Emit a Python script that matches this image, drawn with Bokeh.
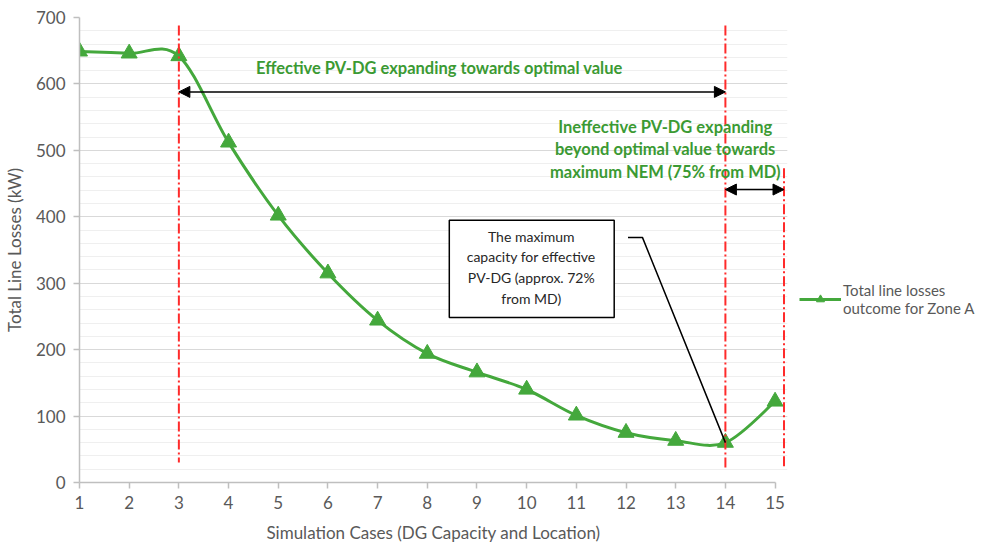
import numpy as np
from bokeh.plotting import figure
from bokeh.models import (Range1d, SingleIntervalTicker, FixedTicker, Label, Arrow,
                          NormalHead, BoxAnnotation, Legend, LegendItem)
from bokeh.embed import file_html
from bokeh.resources import INLINE

# ---- data ----
cases = [1, 2, 3, 4, 5, 6, 7, 8, 9, 10, 11, 12, 13, 14, 15]
losses = [649, 646, 642, 512, 402, 315, 244, 194, 166, 140, 101, 75, 63, 60, 122]
x_ticks = [1, 2, 3, 4, 5, 6, 7, 8, 9, 10, 11, 12, 13, 14, 15]
y_ticks = [0, 100, 200, 300, 400, 500, 600, 700]

GREEN = "#44a83c"
TGREEN = "#3b9a33"
GRAY = "#595959"
RED = "#ff2b2b"
FONT = "Lato"

p = figure(frame_width=708, frame_height=465, min_border_left=70, min_border_right=10,
           min_border_top=17, min_border_bottom=56,
           x_range=Range1d(1, 15.25), y_range=Range1d(0, 700),
           output_backend="svg", toolbar_location=None,
           background_fill_color="white", border_fill_color="white")
p.outline_line_color = None

# axes
p.xaxis.ticker = FixedTicker(ticks=x_ticks)
p.xaxis.bounds = (1, 15)
p.yaxis.ticker = SingleIntervalTicker(interval=100, num_minor_ticks=5)
for ax in (p.xaxis[0], p.yaxis[0]):
    ax.axis_line_color = "#bfbfbf"
    ax.axis_line_width = 1.5
    ax.major_tick_line_color = "#bfbfbf"
    ax.major_tick_line_width = 1.5
    ax.major_tick_in = 0
    ax.major_tick_out = 6
    ax.minor_tick_line_color = None
    ax.major_label_text_font = FONT
    ax.major_label_text_font_size = "17px"
    ax.major_label_text_color = GRAY
    ax.axis_label_text_font = FONT
    ax.axis_label_text_font_size = "17px"
    ax.axis_label_text_font_style = "normal"
    ax.axis_label_text_color = GRAY
p.xaxis.axis_label = "Simulation Cases (DG Capacity and Location)"
p.yaxis.axis_label = "Total Line Losses (kW)"
p.xaxis.major_label_standoff = 7
p.xaxis.axis_label_standoff = 10
p.yaxis.major_label_standoff = 8
p.yaxis.axis_label_standoff = 8

p.xgrid.grid_line_color = None
p.ygrid.grid_line_color = "#d9d9d9"
p.ygrid.grid_line_width = 1.2
p.ygrid.minor_grid_line_color = "#efefef"
p.ygrid.minor_grid_line_width = 1.2

# smooth curve (Bezier segments computed from the data points)
xs = np.array(cases, dtype=float)
ys = np.array(losses, dtype=float)
n = len(xs)
x0, y0, x1, y1, cx0, cy0, cx1, cy1 = [], [], [], [], [], [], [], []
for i in range(n - 1):
    im1 = max(i - 1, 0)
    ip2 = min(i + 2, n - 1)
    x0.append(xs[i]); y0.append(ys[i])
    x1.append(xs[i + 1]); y1.append(ys[i + 1])
    cx0.append(xs[i] + (xs[i + 1] - xs[im1]) / 6)
    cy0.append(ys[i] + (ys[i + 1] - ys[im1]) / 6)
    cx1.append(xs[i + 1] - (xs[ip2] - xs[i]) / 6)
    cy1.append(ys[i + 1] - (ys[ip2] - ys[i]) / 6)
curve = p.bezier(x0=x0, y0=y0, x1=x1, y1=y1, cx0=cx0, cy0=cy0, cx1=cx1, cy1=cy1,
                 line_color=GREEN, line_width=3)
pts = p.scatter(cases, losses, marker="triangle", size=16, fill_color=GREEN,
                line_color=GREEN)

# red dash-dot boundaries
p.line([3, 3], [688, 30], line_color=RED, line_width=2, line_dash="10 3 2 3")
p.line([14, 14], [688, 22], line_color=RED, line_width=2, line_dash="10 3 2 3")
p.line([15.18, 15.18], [473, 21], line_color=RED, line_width=2, line_dash="10 3 2 3")

# arrows
p.add_layout(Arrow(x_start=3, y_start=588, x_end=14, y_end=588, line_width=1.5,
                   start=NormalHead(size=11, fill_color="black", line_color="black"),
                   end=NormalHead(size=11, fill_color="black", line_color="black")))
p.add_layout(Arrow(x_start=14, y_start=441, x_end=15.18, y_end=441, line_width=1.5,
                   start=NormalHead(size=11, fill_color="black", line_color="black"),
                   end=NormalHead(size=11, fill_color="black", line_color="black")))

p.add_layout(Label(x=8.242, y=623.5, text="Effective PV-DG expanding towards optimal value",
                   text_font=FONT, text_font_size="16.5px", text_font_style="bold",
                   text_color=TGREEN, text_align="center", text_baseline="middle"))
p.add_layout(Label(x=12.79, y=501.5,
                   text="Ineffective PV-DG expanding\nbeyond optimal value towards\nmaximum NEM (75% from MD)",
                   text_font=FONT, text_font_size="16.5px", text_font_style="bold",
                   text_color=TGREEN, text_align="center", text_baseline="middle",
                   text_line_height=1.12))

# callout
p.line([12.04, 12.33, 14], [369, 369, 60], line_color="black", line_width=1.5)
p.add_layout(BoxAnnotation(left=8.443, right=11.762, bottom=248.5, top=394.6,
                           fill_color="white", fill_alpha=1, line_color="black",
                           line_width=1.5, line_alpha=1))
p.add_layout(Label(x=10.093, y=324,
                   text="The maximum\ncapacity for effective\nPV-DG (approx. 72%\nfrom MD)",
                   text_font=FONT, text_font_size="14px", text_color="#262626",
                   text_align="center", text_baseline="middle", text_line_height=1.22))

legend = Legend(items=[LegendItem(label="Total line losses\noutcome for Zone A",
                                  renderers=[curve, pts])],
                location=(12, 165), label_text_font=FONT, label_text_font_size="15px",
                label_text_color=GRAY, border_line_color=None, background_fill_alpha=0,
                glyph_width=42, padding=0, margin=0, label_standoff=2)
p.add_layout(legend, "right")

open("out.html", "w").write(file_html(p, INLINE))
